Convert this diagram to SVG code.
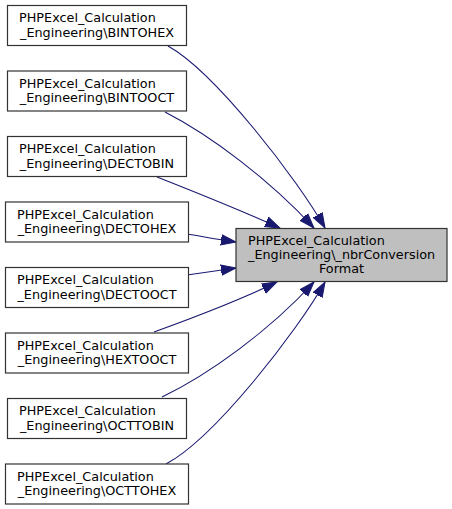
<svg xmlns="http://www.w3.org/2000/svg" width="452" height="509" viewBox="0 0 452 509">
<style>
.n rect{fill:#ffffff;stroke:#333333;stroke-width:1.2}
.cur rect{fill:#bfbfbf;stroke:#333333;stroke-width:1.2}
text{font-family:"DejaVu Sans",sans-serif;font-size:12.8px;fill:#000000}
.m{text-anchor:middle}
.e path{fill:none;stroke:#191970;stroke-width:1.1;marker-end:url(#ah)}
</style>
<defs>
<marker id="ah" markerUnits="userSpaceOnUse" markerWidth="16" markerHeight="12" viewBox="0 0 16 12" refX="15" refY="6" orient="auto">
<polygon points="0,0.8 15,6 0,11.2" fill="#191970" stroke="#191970" stroke-width="1"/>
</marker>
</defs>
<rect width="452" height="509" fill="#ffffff"/>
<g class="e" id="edges">
<path d="M168,46 C215,72 298,180 325,228"/>
<path d="M165,112 C210,135 270,180 314,228"/>
<path d="M157,177 C190,190 240,210 280,228"/>
<path d="M187,234 C200,236 215,239 236,242"/>
<path d="M187,275 C200,273 215,271 236,268"/>
<path d="M154,332 C190,319 240,300 277,282"/>
<path d="M162,397 C210,374 270,330 314,282"/>
<path d="M166,464 C215,438 298,330 325,282"/>
</g>
<g class="n" id="n_bintohex"><rect x="7.5" y="5.5" width="179" height="40"/><text x="19" y="22">PHPExcel_Calculation</text><text class="m" x="97" y="36.5">_Engineering\BINTOHEX</text></g>
<g class="n" id="n_bintooct"><rect x="7.5" y="71" width="179" height="40"/><text x="19" y="87.5">PHPExcel_Calculation</text><text class="m" x="97" y="102">_Engineering\BINTOOCT</text></g>
<g class="n" id="n_dectobin"><rect x="7.5" y="136.5" width="179" height="40"/><text x="19" y="153">PHPExcel_Calculation</text><text class="m" x="97" y="167.5">_Engineering\DECTOBIN</text></g>
<g class="n" id="n_dectohex"><rect x="5.5" y="202" width="183" height="40"/><text x="17" y="218.5">PHPExcel_Calculation</text><text class="m" x="97" y="233">_Engineering\DECTOHEX</text></g>
<g class="n" id="n_dectooct"><rect x="5.5" y="267.5" width="183" height="40"/><text x="17" y="284">PHPExcel_Calculation</text><text class="m" x="97" y="298.5">_Engineering\DECTOOCT</text></g>
<g class="n" id="n_hextooct"><rect x="5.5" y="333" width="183" height="40"/><text x="17" y="349.5">PHPExcel_Calculation</text><text class="m" x="97" y="364">_Engineering\HEXTOOCT</text></g>
<g class="n" id="n_octtobin"><rect x="7.5" y="398.5" width="179" height="40"/><text x="19" y="415">PHPExcel_Calculation</text><text class="m" x="97" y="429.5">_Engineering\OCTTOBIN</text></g>
<g class="n" id="n_octtohex"><rect x="5.5" y="464" width="183" height="40"/><text x="17" y="480.5">PHPExcel_Calculation</text><text class="m" x="97" y="495">_Engineering\OCTTOHEX</text></g>
<g class="cur" id="n_nbrconversionformat"><rect x="236" y="228.5" width="211" height="53"/><text x="248" y="244.5">PHPExcel_Calculation</text><text x="248" y="258.5">_Engineering\_nbrConversion</text><text class="m" x="341.5" y="272.5">Format</text></g>
</svg>
